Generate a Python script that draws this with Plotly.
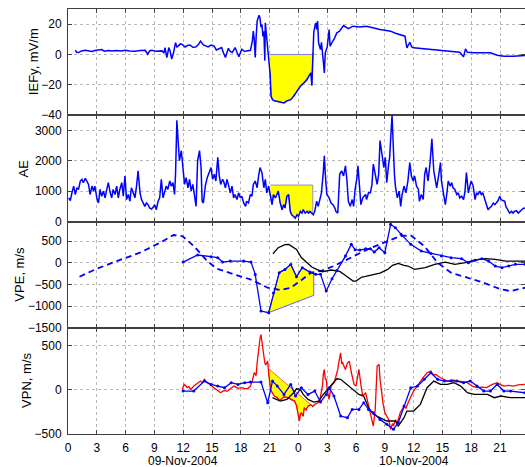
import numpy as np
import plotly.graph_objects as go
from plotly.subplots import make_subplots

# ---------------- data ----------------
HOUR_TICKS = list(range(0, 46, 3))
HOUR_LABELS = [str(h % 24) for h in HOUR_TICKS]
DATE_LABELS = ["09-Nov-2004", "10-Nov-2004"]
DATE_POS = [12, 36]

Y_TITLES = ["IEFy, mV/m", "AE", "VPE, m/s", "VPN, m/s"]
Y_TICKS = [[-40, -20, 0, 20], [0, 1000, 2000, 3000], [-1500, -1000, -500, 0, 500], [-500, 0, 500]]
Y_RANGES = [[-40, 30], [0, 3500], [-1500, 950], [-500, 700]]

IEFY = [(0.76, 2.8), (0.9, 1.5), (1.1, 1.3), (1.4, 2.4), (1.8, 2.8), (2.1, 2.3), (2.5, 2.0), (2.8, 2.6),
        (3.2, 2.8), (3.5, 3.3), (3.8, 2.2), (4.2, 2.6), (4.6, 2.4), (5.0, 2.7), (5.5, 2.3), (5.97, 2.8),
        (6.4, 2.4), (7.0, 2.2), (7.5, 2.6), (8.05, 2.8), (8.3, 0.2), (8.5, 2.4), (8.7, 2.8), (9.2, 2.2),
        (9.8, 2.4), (10.0, 1.0), (10.1, 4.6), (10.3, -2), (10.5, 4.6), (10.65, 2.0), (10.8, -3),
        (11.0, 1.3), (11.2, 7.8), (11.35, 5.0), (11.5, 5.7), (11.7, 7.0), (11.9, 6.7), (12.2, 5),
        (12.45, 6.0), (12.7, 6.3), (13.0, 4.8), (13.3, 5), (13.6, 6.7), (13.8, 8.9), (14.1, 6.3),
        (14.35, 5.5), (14.6, 5), (14.9, 6.2), (15.2, 5.7), (15.45, 3.0), (15.7, 3.5), (16.0, 4.6),
        (16.2, 1.0), (16.4, -2), (16.7, 4.1), (16.9, 2.0), (17.1, 1.3), (17.4, 4.6), (17.6, 1.5),
        (17.8, -1.5), (18.1, 3.5), (18.4, 2.0), (18.6, 2.4), (19.0, 2.8), (19.2, 8.9), (19.3, 15.4),
        (19.4, 10), (19.5, -2), (19.6, 12), (19.7, 22), (19.9, 25.9), (20.0, 24), (20.1, 18),
        (20.2, 19.8), (20.3, 12), (20.4, 15.4), (20.5, -4), (20.55, 20.9), (20.7, 11), (20.9, -4),
        (21.05, -12.8), (21.15, -27.5), (21.3, -29.7), (21.5, -30.5), (21.8, -30.8), (22.2, -31.5),
        (22.5, -31.9), (22.8, -30.5), (23.2, -29.7), (23.5, -27.5), (23.9, -24), (24.2, -20.9),
        (24.6, -18.5), (24.9, -16.5), (25.1, -14), (25.3, -12.1), (25.4, -20.4), (25.5, 1.1), (25.6, 15),
        (25.8, 20.9), (25.9, 16.5), (26.0, 22), (26.1, 7.7), (26.3, 3.3), (26.4, 8), (26.6, -5),
        (26.7, -12.1), (26.8, 1.1), (27.0, 5), (27.2, 16.5), (27.3, 5.5), (27.5, 8), (27.7, 9.9),
        (28.0, 14.3), (28.3, 15.5), (28.7, 19.1), (29.2, 17), (29.7, 18.7), (30.4, 18.2), (31.1, 18.7),
        (31.8, 17.5), (32.5, 16.5), (33.0, 16.0), (33.6, 15.4), (34.1, 14.0), (34.6, 13.2), (35.1, 12.1),
        (35.2, 8), (35.3, 4.4), (35.6, 8.1), (35.8, 5), (36.0, 4.4), (37.0, 3.8), (38.1, 3.3), (39.2, 2.8),
        (40.2, 2.2), (40.8, 1.5), (41.2, -1.5), (41.4, 3.7), (41.6, 1.5), (42.0, 1.1), (42.3, 1.2),
        (43.0, 1.1), (44.0, 1.1), (44.7, -0.5), (45.4, -1.1), (46.4, -1.1), (47.6, -0.7)]

AE = [(0.07, 778), (0.24, 689), (0.41, 944), (0.59, 1167), (0.76, 889), (0.93, 1111), (1.1, 1056),
      (1.28, 1333), (1.45, 1389), (1.6, 1278), (1.8, 1422), (1.97, 1333), (2.14, 1222), (2.3, 889),
      (2.5, 1167), (2.66, 1000), (2.8, 1167), (3.0, 778), (3.17, 611), (3.34, 1056), (3.5, 833),
      (3.7, 1000), (3.86, 778), (4.0, 1000), (4.2, 1278), (4.4, 944), (4.55, 778), (4.7, 1056),
      (4.9, 889), (5.07, 1167), (5.24, 778), (5.4, 1056), (5.6, 1278), (5.76, 833), (5.93, 1500),
      (6.1, 722), (6.28, 889), (6.45, 667), (6.6, 1111), (6.8, 944), (6.97, 778), (7.14, 1167),
      (7.3, 1667), (7.5, 944), (7.66, 722), (7.83, 611), (8.0, 500), (8.17, 611), (8.34, 556),
      (8.5, 444), (8.7, 411), (8.86, 467), (9.03, 556), (9.2, 389), (9.38, 667), (9.55, 778),
      (9.72, 1389), (9.9, 778), (10.07, 1000), (10.24, 1167), (10.4, 1056), (10.6, 1333), (10.76, 1167),
      (10.93, 1278), (11.1, 889), (11.2, 1556), (11.34, 3333), (11.45, 2889), (11.6, 2000), (11.8, 2333),
      (11.97, 1667), (12.14, 1222), (12.3, 1444), (12.5, 1111), (12.66, 1389), (12.83, 1000),
      (13.0, 1222), (13.17, 778), (13.34, 500), (13.5, 2000), (13.7, 2333), (13.86, 1778), (13.97, 667),
      (14.1, 611), (14.3, 1167), (14.5, 1444), (14.7, 1611), (14.9, 1778), (15.07, 1389), (15.24, 1556),
      (15.4, 1333), (15.6, 2111), (15.76, 1500), (15.9, 1222), (16.1, 1389), (16.2, 1333), (16.4, 1111),
      (16.56, 1389), (16.7, 1222), (16.9, 944), (17.08, 1167), (17.25, 778), (17.4, 889), (17.6, 722),
      (17.77, 944), (17.95, 778), (18.1, 833), (18.3, 611), (18.5, 500), (18.6, 667), (18.8, 611),
      (18.99, 889), (19.16, 833), (19.3, 1222), (19.5, 1333), (19.7, 1111), (19.85, 1500), (20.0, 1778),
      (20.2, 1611), (20.4, 1111), (20.55, 1389), (20.7, 944), (20.9, 1167), (21.07, 889), (21.25, 556),
      (21.4, 889), (21.6, 778), (21.76, 889), (21.9, 1000), (22.1, 611), (22.3, 389), (22.46, 556),
      (22.6, 444), (22.8, 833), (22.98, 889), (23.15, 333), (23.3, 222), (23.5, 167), (23.67, 111),
      (23.85, 222), (24.0, 167), (24.2, 333), (24.37, 278), (24.5, 389), (24.7, 278), (24.9, 333),
      (25.04, 278), (25.2, 333), (25.4, 278), (25.55, 222), (25.7, 333), (25.9, 667), (26.06, 500),
      (26.2, 722), (26.4, 944), (26.6, 1667), (26.7, 2167), (26.8, 1556), (26.96, 889), (27.2, 778),
      (27.4, 611), (27.6, 556), (27.8, 444), (27.9, 333), (28.1, 278), (28.3, 1556), (28.5, 1667),
      (28.7, 1500), (28.9, 1833), (29.06, 1333), (29.2, 667), (29.4, 500), (29.6, 722), (29.75, 500),
      (29.9, 1056), (30.1, 1444), (30.2, 1833), (30.4, 1000), (30.5, 556), (30.7, 778), (31.0, 889),
      (31.1, 722), (31.3, 944), (31.5, 944), (31.66, 1222), (31.8, 1889), (32.0, 1556), (32.2, 1222),
      (32.36, 1556), (32.5, 2667), (32.7, 2222), (32.9, 1778), (33.05, 2111), (33.2, 1278), (33.4, 1889),
      (33.5, 2111), (33.75, 3500), (33.85, 2444), (34.0, 1556), (34.1, 1167), (34.3, 778), (34.5, 1000),
      (34.65, 500), (34.8, 889), (35.0, 1167), (35.2, 944), (35.4, 1333), (35.6, 1944), (35.77, 1500),
      (35.95, 1333), (36.1, 1500), (36.3, 1167), (36.5, 1056), (36.6, 667), (36.8, 889), (37.0, 722),
      (37.15, 1556), (37.3, 1778), (37.5, 1333), (37.7, 1889), (37.9, 2722), (38.1, 1667), (38.25, 1333),
      (38.4, 1111), (38.6, 1500), (38.8, 1944), (38.9, 1333), (39.1, 1000), (39.3, 556), (39.45, 889),
      (39.6, 1333), (39.8, 1167), (39.97, 1278), (40.1, 1111), (40.3, 1056), (40.5, 889), (40.65, 944),
      (40.8, 778), (41.0, 833), (41.2, 722), (41.35, 1000), (41.5, 1611), (41.7, 944), (41.9, 1222),
      (42.0, 1333), (42.2, 1167), (42.4, 722), (42.55, 944), (42.7, 889), (42.9, 1000), (43.05, 889),
      (43.2, 944), (43.4, 722), (43.6, 500), (43.75, 389), (43.9, 444), (44.1, 500), (44.3, 611),
      (44.45, 556), (44.6, 611), (44.8, 689), (44.97, 833), (45.1, 722), (45.3, 689), (45.5, 667),
      (45.6, 500), (45.8, 389), (46.0, 278), (46.2, 333), (46.35, 278), (46.5, 333), (46.7, 356),
      (46.9, 278), (47.0, 311), (47.2, 389), (47.45, 444), (47.6, 430)]

VPE_DASHED = [(1.2, -323), (3.0, -138), (5.1, 38), (7.5, 231), (9.6, 462), (11.0, 638), (11.9, 615),
              (13.1, 385), (14.5, 38), (15.5, -138), (17.3, -269), (19.0, -385), (20.8, -577), (22.2, -631),
              (23.2, -577), (24.2, -423), (25.3, -231), (26.3, -192), (27.7, -77), (29.4, 115), (31.2, 308),
              (32.9, 462), (34.6, 615), (35.7, 631), (37.1, 385), (38.5, 0), (39.9, -231), (41.6, -346),
              (43.3, -462), (45.1, -615), (46.1, -654), (47.6, -577)]

VPE_BLUE = [(12.0, 15), (13.5, 177), (14.9, 138), (15.6, 115), (16.1, 15), (16.9, 37), (18.3, 38),
            (19.06, 14), (19.5, -270), (20.1, -1115), (20.9, -1152), (21.4, -700), (22.0, -230),
            (22.6, -154), (23.2, -39), (23.8, -323), (24.4, -115), (25.2, -216), (25.8, -269), (26.3, -269),
            (26.9, -654), (27.5, -369), (28.0, -177), (28.9, 152), (29.5, 423), (29.9, 300), (30.4, 290),
            (31.0, 320), (31.5, 320), (31.9, 246), (32.4, 346), (33.0, 231), (33.6, 885), (34.1, 808),
            (34.7, 654), (35.7, 423), (36.8, 269), (37.8, 215), (38.9, 154), (39.9, 115), (41.0, 92),
            (41.7, 0), (42.4, 54), (43.1, 92), (43.8, 38), (44.5, -77), (45.2, -115), (45.9, -77),
            (46.6, -38), (47.6, -38)]

VPE_BLACK = [(21.35, 207), (21.9, 346), (22.6, 415), (23.0, 422), (23.8, 306), (24.3, 120), (24.9, 0),
             (25.4, -100), (25.9, -154), (26.5, -208), (27.4, -169), (28.3, -200), (28.8, -280),
             (29.7, -423), (30.0, -423), (30.6, -330), (30.9, -323), (31.5, -300), (31.9, -269),
             (32.5, -240), (33.3, -154), (33.8, -60), (34.4, -15), (35.0, -60), (35.4, -77), (36.1, -154),
             (37.2, -115), (38.2, -38), (39.3, 15), (40.3, -38), (41.4, 0), (42.4, 62), (43.5, 92),
             (44.5, 77), (45.6, 38), (47.6, 38)]

VPN_RED = [(11.9, 4), (12.1, 60), (12.3, 40), (12.4, 23), (12.6, 35), (12.8, 4), (13.1, 41), (13.4, 70),
           (13.8, 98), (14.0, 80), (14.2, 117), (14.5, 79), (14.8, 60), (15.2, 23), (15.5, 0), (15.9, -34),
           (16.2, -10), (16.6, -15), (17.0, 20), (17.3, 41), (17.7, 15), (18.0, 23), (18.4, 15), (18.7, 11),
           (19.0, 41), (19.2, 100), (19.4, 192), (19.6, 160), (19.7, 305), (19.8, 420), (19.9, 492),
           (20.0, 580), (20.1, 624), (20.2, 530), (20.3, 420), (20.5, 305), (20.6, 280), (20.8, 323),
           (20.9, 192), (21.0, 80), (21.1, 4), (21.3, -40), (21.5, -71), (21.8, -90), (22.0, -120),
           (22.2, -109), (22.5, -80), (22.9, -90), (23.2, -110), (23.6, -128), (23.8, -180), (23.9, -241),
           (24.0, -300), (24.1, -353), (24.2, -280), (24.3, -259), (24.5, -300), (24.6, -203), (24.8, -230),
           (25.0, -184), (25.3, -170), (25.5, -190), (25.7, -165), (26.0, -150), (26.2, -128), (26.4, -20),
           (26.5, 41), (26.6, 180), (26.7, 229), (26.8, 120), (26.9, 117), (27.0, 0), (27.2, -109),
           (27.4, 41), (27.7, 79), (27.9, 150), (28.1, 229), (28.2, 305), (28.3, 380), (28.4, 417),
           (28.5, 300), (28.6, 305), (28.8, 250), (28.9, 229), (29.1, 300), (29.3, 323), (29.5, 200),
           (29.6, 154), (29.8, 60), (30.0, 41), (30.2, 150), (30.3, 229), (30.5, 60), (30.7, -71),
           (31.0, -34), (31.2, -128), (31.4, -200), (31.5, -259), (31.7, -350), (31.8, -410), (32.0, -222),
           (32.1, 50), (32.2, 267), (32.4, 286), (32.5, 117), (32.7, -50), (32.8, -147), (33.0, -259),
           (33.2, -300), (33.4, -335), (33.6, -447), (33.8, -380), (33.9, -410), (34.1, -340), (34.3, -372),
           (34.6, -259), (35.0, -184), (35.2, -210), (35.5, -128), (35.8, -60), (36.0, -15), (36.3, 30),
           (36.7, 98), (37.0, 140), (37.4, 192), (37.8, 211), (38.0, 170), (38.3, 173), (38.8, 135),
           (39.2, 110), (39.5, 98), (40.0, 110), (40.5, 98), (41.0, 90), (41.6, 79), (42.1, 40), (42.6, 23),
           (43.1, 30), (43.6, 23), (44.2, 60), (44.7, 79), (45.0, 60), (45.4, 41), (45.9, 50), (46.4, 41),
           (46.9, 55), (47.6, 60)]

VPN_BLUE = [(12.0, -15), (13.1, -15), (14.2, 98), (14.9, 60), (15.6, 41), (16.3, 23), (17.0, 79),
            (17.7, 60), (18.4, 79), (19.0, 86), (20.1, 86), (20.8, -147), (21.3, 98), (21.8, 41),
            (22.5, -53), (23.2, 60), (23.7, -71), (24.3, 23), (25.0, -53), (25.7, -15), (26.3, -139),
            (26.9, -53), (27.2, 23), (27.7, -71), (28.4, -297), (29.1, -316), (29.6, -222), (30.3, -222),
            (30.8, -147), (31.3, -222), (31.8, -259), (32.5, -335), (33.2, -391), (33.9, -447),
            (34.4, -372), (35.0, -184), (35.7, 23), (36.4, 41), (37.1, 117), (37.8, 192), (38.5, 117),
            (39.2, 98), (39.9, 98), (40.5, 98), (41.2, 79), (41.9, 98), (42.6, 41), (43.3, -15),
            (44.0, -15), (44.7, 60), (45.4, -15), (46.1, -15), (47.6, -34)]

VPN_BLACK = [(21.3, -90), (22.1, -128), (22.8, -109), (23.5, -34), (23.8, 11), (24.2, 4), (24.5, -53),
             (25.0, -109), (25.6, -139), (26.1, -128), (26.6, -53), (27.2, 23), (27.7, 98), (28.0, 124),
             (28.4, 117), (29.0, 60), (29.7, 4), (30.3, -53), (30.8, -71), (31.3, -203), (31.8, -278),
             (32.5, -316), (33.2, -353), (34.1, -353), (34.4, -410), (35.0, -316), (35.3, -241),
             (36.0, -241), (36.7, -165), (37.4, 23), (38.1, 98), (38.8, 60), (39.5, 60), (40.2, 79),
             (40.9, 41), (41.6, -34), (42.3, -53), (43.0, -53), (43.7, -53), (44.4, -90), (45.1, -71),
             (46.1, -90), (47.6, -90)]

# shaded intervals
IEFY_SPAN = (21.0, 25.5)
AE_SPAN = (21.07, 25.5)
AE_LEVEL = 1200
VPE_SPAN = (20.9, 25.6)
VPE_BOTTOM = (-1152, -753)
VPN_SPAN = (20.9, 25.3)
VPN_TOP = (237, -165)

X_RANGE = [0, 47.6]


def xy(pairs):
    a = np.array(pairs, dtype=float)
    return a[:, 0], a[:, 1]


def segment(pairs, a, b):
    t, v = xy(pairs)
    m = (t > a) & (t < b)
    ts = np.concatenate([[a], t[m], [b]])
    vs = np.concatenate([[np.interp(a, t, v)], v[m], [np.interp(b, t, v)]])
    return ts, vs


fig = make_subplots(rows=4, cols=1, shared_xaxes=True, vertical_spacing=0)

YELLOW = "#ffff00"
BLUE = "#0000ff"

# panel 1 fill + line
ts, vs = segment(IEFY, *IEFY_SPAN)
fig.add_trace(go.Scatter(x=[IEFY_SPAN[0], IEFY_SPAN[1]] + list(ts[::-1]),
                         y=[0, 0] + list(vs[::-1]), fill="toself", fillcolor=YELLOW,
                         mode="lines", line=dict(color="#8080d0", width=1)), row=1, col=1)
t, v = xy(IEFY)
fig.add_trace(go.Scatter(x=t, y=v, mode="lines", line=dict(color=BLUE, width=1.5)), row=1, col=1)

# panel 2
ts, vs = segment(AE, *AE_SPAN)
fig.add_trace(go.Scatter(x=[AE_SPAN[0], AE_SPAN[1]] + list(ts[::-1]),
                         y=[AE_LEVEL, AE_LEVEL] + list(vs[::-1]), fill="toself", fillcolor=YELLOW,
                         mode="lines", line=dict(color="#9090c0", width=1)), row=2, col=1)
t, v = xy(AE)
fig.add_trace(go.Scatter(x=t, y=v, mode="lines", line=dict(color=BLUE, width=1.5)), row=2, col=1)

# panel 3
ts, vs = segment(VPE_BLUE, *VPE_SPAN)
fig.add_trace(go.Scatter(x=list(ts) + [VPE_SPAN[1], VPE_SPAN[0]],
                         y=list(vs) + [VPE_BOTTOM[1], VPE_BOTTOM[0]], fill="toself", fillcolor=YELLOW,
                         mode="lines", line=dict(color="#6060ff", width=1)), row=3, col=1)
t, v = xy(VPE_DASHED)
fig.add_trace(go.Scatter(x=t, y=v, mode="lines", line=dict(color=BLUE, width=1.8, dash="6px,4px")), row=3, col=1)
t, v = xy(VPE_BLACK)
fig.add_trace(go.Scatter(x=t, y=v, mode="lines", line=dict(color="black", width=1.3)), row=3, col=1)
t, v = xy(VPE_BLUE)
fig.add_trace(go.Scatter(x=t, y=v, mode="lines+markers", line=dict(color=BLUE, width=1.3),
                         marker=dict(color=BLUE, size=3)), row=3, col=1)

# panel 4
ts, vs = segment(VPN_RED, *VPN_SPAN)
fig.add_trace(go.Scatter(x=[VPN_SPAN[0], VPN_SPAN[1]] + list(ts[::-1]),
                         y=[VPN_TOP[0], VPN_TOP[1]] + list(vs[::-1]), fill="toself", fillcolor=YELLOW,
                         mode="lines", line=dict(color="#ff6040", width=1)), row=4, col=1)
t, v = xy(VPN_RED)
fig.add_trace(go.Scatter(x=t, y=v, mode="lines", line=dict(color="#ff0000", width=1.3)), row=4, col=1)
t, v = xy(VPN_BLACK)
fig.add_trace(go.Scatter(x=t, y=v, mode="lines", line=dict(color="black", width=1.3)), row=4, col=1)
t, v = xy(VPN_BLUE)
fig.add_trace(go.Scatter(x=t, y=v, mode="lines+markers", line=dict(color=BLUE, width=1.3),
                         marker=dict(color=BLUE, size=3)), row=4, col=1)

axis_common = dict(showline=True, linecolor="#404040", linewidth=1, mirror="ticks", ticks="inside",
                   ticklen=4, tickcolor="#404040", showgrid=True, gridcolor="#b8b8b8", griddash="dot",
                   gridwidth=1, zeroline=False)

for r in range(1, 5):
    fig.update_xaxes(range=X_RANGE, tickvals=HOUR_TICKS, ticktext=HOUR_LABELS,
                     showticklabels=(r == 4), ticklabelstandoff=3, row=r, col=1, **axis_common)
    fig.update_yaxes(range=Y_RANGES[r - 1], tickvals=Y_TICKS[r - 1], ticklabelstandoff=3,
                     row=r, col=1, **axis_common)

annotations = []
title_x = [33, 23, 20, 27]
for i, (title, px) in enumerate(zip(Y_TITLES, title_x)):
    yaxis = fig.layout["yaxis" + ("" if i == 0 else str(i + 1))]
    d = yaxis.domain
    annotations.append(dict(text=title, xref="paper", yref="paper", x=0, xshift=px - 68,
                            y=(d[0] + d[1]) / 2, textangle=-90, showarrow=False,
                            xanchor="center", yanchor="middle", font=dict(size=13, color="black")))
for lab, pos in zip(DATE_LABELS, DATE_POS):
    annotations.append(dict(text=lab, xref="x4", yref="paper", x=pos, y=0, yshift=-19,
                            showarrow=False, xanchor="center", yanchor="top",
                            font=dict(size=12, color="black"), borderpad=0))

fig.update_layout(width=525, height=467, margin=dict(l=68, r=0, t=9, b=33),
                  plot_bgcolor="white", paper_bgcolor="white", showlegend=False,
                  font=dict(family="Liberation Sans, Arial, sans-serif", size=12, color="black"),
                  annotations=annotations)

fig.write_html("out.html")
